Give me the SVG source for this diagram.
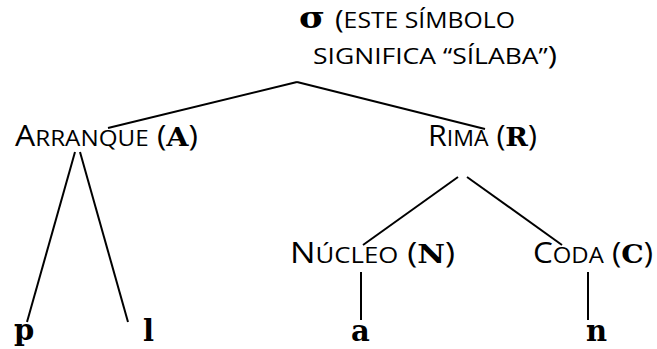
<svg xmlns="http://www.w3.org/2000/svg" width="657" height="349" viewBox="0 0 657 349">
  <style>
    .lbl { font-family: "Open Sans", "Noto Sans", sans-serif; font-size: 29px; fill: #000; }
    .sc { font-size: 22px; }
    .hd { font-family: "Open Sans", "Noto Sans", sans-serif; font-size: 22px; fill: #000; }
    .b { font-family: "DejaVu Serif", "Liberation Serif", serif; font-weight: bold; font-size: 26px; }
    .leaf { font-family: "DejaVu Serif", "Liberation Serif", serif; font-weight: bold; font-size: 29px; fill: #000; }
    .edge { stroke: #000; stroke-width: 2; fill: none; stroke-linecap: butt; }
  </style>

  <!-- tree branches -->
  <g id="connectors">
    <line class="edge" x1="297" y1="82" x2="108" y2="128"/>
    <line class="edge" x1="297" y1="82" x2="485" y2="129"/>
    <line class="edge" x1="75" y1="152" x2="27" y2="322"/>
    <line class="edge" x1="80" y1="152" x2="128" y2="322"/>
    <line class="edge" x1="458" y1="177" x2="363" y2="245"/>
    <line class="edge" x1="467" y1="177" x2="562" y2="245"/>
    <line class="edge" x1="361" y1="272" x2="361" y2="320"/>
    <line class="edge" x1="588" y1="272" x2="588" y2="320"/>
  </g>

  <!-- root: syllable -->
  <g id="node-sigma">
    <text class="leaf" x="299" y="28" font-size="34" textLength="26" lengthAdjust="spacingAndGlyphs">σ</text>
    <text class="hd" x="335" y="28" textLength="180" lengthAdjust="spacingAndGlyphs"><tspan font-size="26">(</tspan>ESTE SÍMBOLO</text>
    <text class="hd" x="313" y="64" textLength="244" lengthAdjust="spacingAndGlyphs">SIGNIFICA “SÍLABA”<tspan font-size="26">)</tspan></text>
  </g>

  <!-- onset -->
  <g id="node-arranque">
    <text class="lbl" x="15" y="146" textLength="183" lengthAdjust="spacingAndGlyphs">A<tspan class="sc">RRANQUE</tspan> (<tspan class="b">A</tspan>)</text>
  </g>

  <!-- rhyme -->
  <g id="node-rima">
    <text class="lbl" x="428" y="146" textLength="109" lengthAdjust="spacingAndGlyphs">R<tspan class="sc">IMA</tspan> (<tspan class="b">R</tspan>)</text>
  </g>

  <!-- nucleus -->
  <g id="node-nucleo">
    <text class="lbl" x="290" y="263" textLength="165" lengthAdjust="spacingAndGlyphs">N<tspan class="sc">ÚCLEO</tspan> (<tspan class="b">N</tspan>)</text>
  </g>

  <!-- coda -->
  <g id="node-coda">
    <text class="lbl" x="533" y="263" textLength="120" lengthAdjust="spacingAndGlyphs">C<tspan class="sc">ODA</tspan> (<tspan class="b">C</tspan>)</text>
  </g>

  <!-- segments -->
  <g id="leaf-p"><text class="leaf" x="14" y="340">p</text></g>
  <g id="leaf-l"><text class="leaf" x="143" y="341">l</text></g>
  <g id="leaf-a"><text class="leaf" x="351" y="341">a</text></g>
  <g id="leaf-n"><text class="leaf" x="586" y="341">n</text></g>
</svg>
